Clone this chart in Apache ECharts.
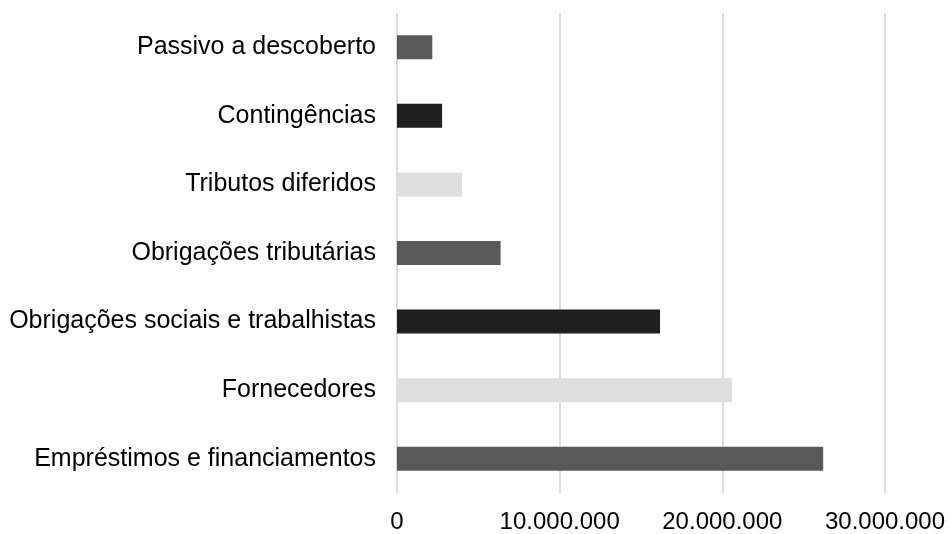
<!DOCTYPE html>
<html>
<head>
<meta charset="utf-8">
<script src="https://cdn.jsdelivr.net/npm/echarts@6/dist/echarts.min.js"></script>
<style>
  html, body { margin: 0; padding: 0; background: #fff; }
  #chart { width: 951px; height: 534px; }
</style>
</head>
<body>
<div id="chart"></div>
<script>
// categories listed bottom to top (ECharts category axis starts at the bottom)
const categories = [
  'Empréstimos e financiamentos',
  'Fornecedores',
  'Obrigações sociais e trabalhistas',
  'Obrigações tributárias',
  'Tributos diferidos',
  'Contingências',
  'Passivo a descoberto'
];
const values = [26200000, 20600000, 16170000, 6370000, 4000000, 2770000, 2170000];
const barColors = ['#595959', '#dedede', '#1f1f1f', '#595959', '#dedede', '#1f1f1f', '#595959'];

const fmt = v => String(v).replace(/\B(?=(\d{3})+(?!\d))/g, '.');

const chart = echarts.init(document.getElementById('chart'));

const option = {
  animation: false,
  textStyle: { fontFamily: '"Liberation Sans", Arial, sans-serif' },
  grid: { left: 397, right: 66, top: 13, bottom: 38, containLabel: false },
  xAxis: {
    type: 'value',
    min: 0,
    max: 30000000,
    interval: 10000000,
    axisLine: { show: false },
    axisTick: { show: false },
    axisLabel: {
      color: '#000',
      fontSize: 24,
      margin: 17,
      formatter: fmt
    },
    splitLine: { lineStyle: { color: '#dcdcdc', width: 2 } }
  },
  yAxis: {
    type: 'category',
    data: categories,
    axisLine: { show: false },
    axisTick: { show: false },
    axisLabel: { color: '#000', fontSize: 25, margin: 21 }
  },
  series: [{
    type: 'bar',
    data: values.map((v, i) => ({ value: v, itemStyle: { color: barColors[i] } })),
    barWidth: '35%'
  }]
};

chart.setOption(option);
</script>
</body>
</html>
